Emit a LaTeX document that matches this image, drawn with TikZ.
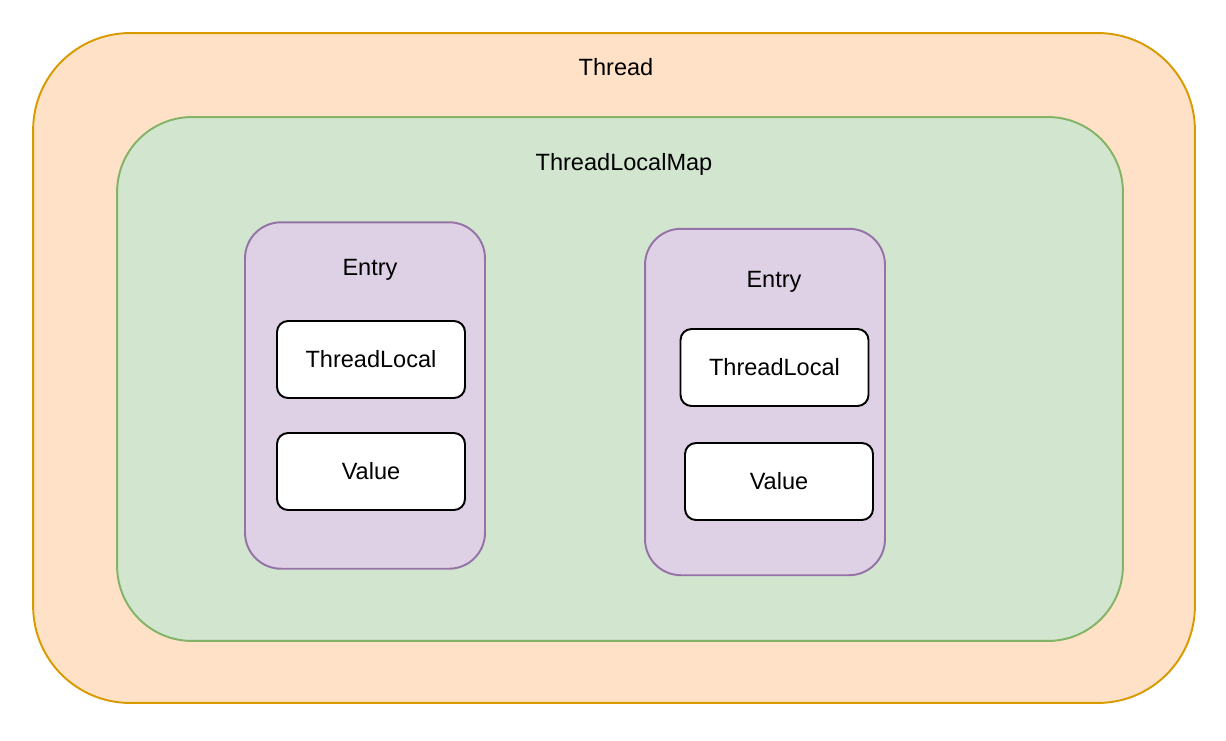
\documentclass[tikz,border=0pt]{standalone}
\usepackage{fontspec}
\setmainfont{Liberation Sans}
\definecolor{threadfill}{HTML}{FEE1C6}
\definecolor{threadline}{HTML}{D79B00}
\definecolor{mapfill}{HTML}{D1E5CF}
\definecolor{mapline}{HTML}{82B366}
\definecolor{entryfill}{HTML}{DFD1E5}
\definecolor{entryline}{HTML}{9673A6}
\tikzset{
  threadbox/.style={draw=threadline,fill=threadfill,line width=1.1pt,rounded corners=1.94cm,minimum width=23.24cm,minimum height=13.4cm},
  mapbox/.style={draw=mapline,fill=mapfill,line width=1.1pt,rounded corners=1.5cm,minimum width=20.12cm,minimum height=10.48cm},
  entrybox/.style={draw=entryline,fill=entryfill,line width=1.1pt,rounded corners=0.72cm,minimum width=4.8cm,minimum height=6.93cm},
  fieldbox/.style={draw=black,fill=white,line width=1.1pt,rounded corners=0.22cm,minimum width=3.76cm,minimum height=1.54cm},
  lbl/.style={inner sep=0pt}
}
\begin{document}
\begin{tikzpicture}[x=0.02cm,y=-0.02cm,font=\fontsize{13.4}{16}\selectfont]
            \useasboundingbox (0,0) rectangle (1226,740);
            \node[threadbox] (thread) at (614,368) {};
            \node[lbl] (threadtxt) at (616,67) {Thread};
            \node[mapbox] (map) at (620,379) {};
            \node[lbl] (maptxt) at (624,164.5) {ThreadLocalMap};
            % first entry
            \node[entrybox] (entryA) at (365,395.5) {};
            \node[lbl] (entryAtxt) at (370,269.5) {Entry};
            \node[fieldbox] (keyA) at (371,359.5) {ThreadLocal};
            \node[fieldbox] (valA) at (371,471.5) {Value};
            % second entry
            \node[entrybox] (entryB) at (765,402) {};
            \node[lbl] (entryBtxt) at (774,281.5) {Entry};
            \node[fieldbox] (keyB) at (774.5,367.5) {ThreadLocal};
            \node[fieldbox] (valB) at (779,481.5) {Value};
        \end{tikzpicture}
\end{document}
